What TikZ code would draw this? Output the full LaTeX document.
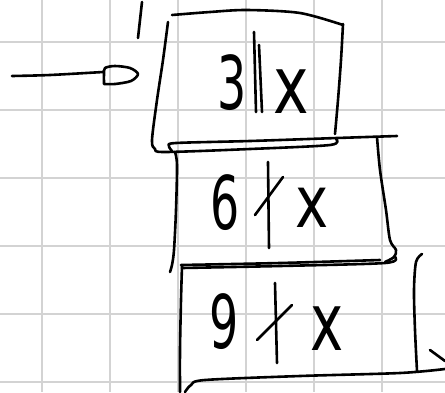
\documentclass[tikz,border=0pt]{standalone}
\usepackage{fontspec}
\setmainfont{DejaVu Sans}
\usepackage{graphicx}
\begin{document}
\begin{tikzpicture}[x=1pt,y=-1pt,
  gridline/.style={draw=gridgray,line width=2pt},
  ink/.style={draw=black,line width=2.6pt,line cap=round,line join=round},
  digit/.style={inner sep=0pt,font=\fontsize{74}{74}\selectfont},
  ex/.style={inner sep=0pt,font=\fontsize{80}{80}\selectfont}]
\definecolor{gridgray}{RGB}{211,211,211}
\useasboundingbox (0,0) rectangle (445,392);
\fill[white] (0,0) rectangle (445,392);
% grid
\foreach \g in {42,110,178,246,314,382}{
  \draw[gridline] (\g,0) -- (\g,392);
  \draw[gridline] (0,\g) -- (445,\g);
}
% small tick at top
\draw[ink] plot[smooth] coordinates {(138,38) (140,20) (142,2)};
% incoming arrow with loop end
\draw[ink] plot[smooth] coordinates {(12,76) (50,75) (103,72)};
\draw[ink] plot[smooth] coordinates {(104,84) (104,74) (105,68) (115,66) (130,68) (138,74) (131,81) (115,84) (104,84)};
% box 1
\draw[ink] plot[smooth] coordinates {(172,15) (210,12) (247,10) (300,13) (343,25)};
\draw[ink] plot[smooth] coordinates {(343,24) (341,60) (338,100) (335,134)};
\draw[ink] plot[smooth] coordinates {(168,22) (163,60) (157,100) (152,140) (155,149) (165,152) (250,149) (330,145) (336,139)};
% box 2
\draw[ink] plot[smooth] coordinates {(172,151) (169,146) (176,143) (250,141) (337,138) (397,136)};
\draw[ink] plot[smooth] coordinates {(175,152) (177,165) (176,210) (174,250) (172,265) (170,272)};
\draw[ink] plot[smooth] coordinates {(377,137) (380,170) (386,210) (390,240) (396,250) (394,257) (385,262)};
\draw[ink] plot[smooth] coordinates {(181,265) (280,263) (380,260)};
\draw[ink] plot[smooth] coordinates {(182,268) (280,266) (385,263) (395,257)};
% box 3
\draw[ink] plot[smooth] coordinates {(182,266) (181,300) (180,350) (180,392)};
\draw[ink] plot[smooth] coordinates {(185,392) (191,385) (205,380) (300,376) (400,373) (445,369)};
\draw[ink] plot[smooth] coordinates {(422,254) (416,262) (414,290) (415,330) (417,371)};
\draw[ink] (430,350) -- (445,361);
% dividers
\draw[ink] (254,32) -- (256,112);
\draw[ink] (259,45) -- (262,112);
\draw[ink] (268,162) -- (269,248);
\draw[ink] (255,215) -- (283,177);
\draw[ink] (275,283) -- (277,363);
\draw[ink] (257,340) -- (292,305);
% texts
\node[digit] (d1) at (232,83) {\scalebox{0.62}[1]{3}};
\node[ex] (x1) at (291,92) {\scalebox{0.75}[1]{x}};
\node[digit] (d2) at (225,203) {\scalebox{0.62}[1]{6}};
\node[ex] (x2) at (312,208) {\scalebox{0.7}[0.9]{x}};
\node[digit] (d3) at (224,322) {\scalebox{0.62}[1]{9}};
\node[ex] (x3) at (327,329) {\scalebox{0.7}[1]{x}};
\end{tikzpicture}
\end{document}
